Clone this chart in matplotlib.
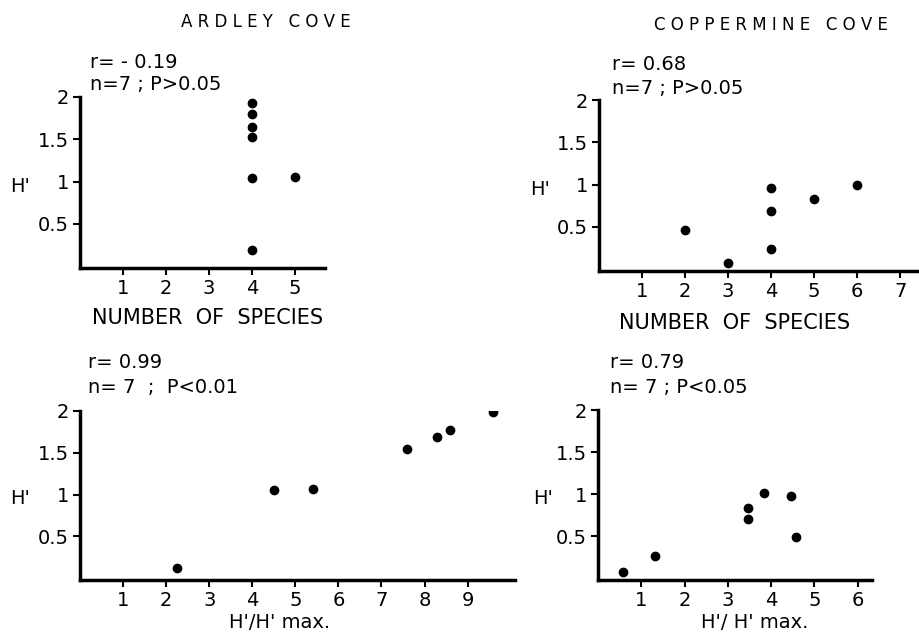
import matplotlib
matplotlib.use('Agg')
import matplotlib.pyplot as plt

# values
ardley_species = [4, 4, 4, 4, 4, 4, 5]
ardley_species_h = [1.93, 1.80, 1.64, 1.53, 1.04, 0.19, 1.05]
copper_species = [2, 3, 4, 4, 4, 5, 6]
copper_species_h = [0.46, 0.07, 0.96, 0.69, 0.24, 0.83, 0.99]
ardley_ratio = [2.25, 4.5, 5.4, 7.6, 8.28, 8.58, 9.58]
ardley_ratio_h = [0.12, 1.05, 1.07, 1.55, 1.69, 1.77, 1.99]
copper_ratio = [0.58, 1.32, 3.47, 3.47, 3.84, 4.47, 4.58]
copper_ratio_h = [0.08, 0.26, 0.84, 0.71, 1.01, 0.98, 0.49]

y_ticks = [0.5, 1, 1.5, 2]
y_tick_labels = ['0.5', '1', '1.5', '2']

W, H = 919, 644
plt.rcParams['font.family'] = 'DejaVu Sans'

fig = plt.figure(figsize=(W / 100, H / 100), dpi=100)


def rect(x0, y_top, x1, y_bot):
    # pixel box -> figure fraction
    return [x0 / W, 1 - y_bot / H, (x1 - x0) / W, (y_bot - y_top) / H]


def ftext(x, y, s, **kw):
    fig.text(x / W, 1 - y / H, s, **kw)


def panel(box, xs, ys, xmax, xticks):
    ax = fig.add_axes(rect(*box))
    ax.plot(xs, ys, 'o', color='black', markersize=6)
    ax.set_xlim(0, xmax)
    ax.set_ylim(-0.02, 2.0)
    ax.set_xticks(xticks)
    ax.set_xticklabels([str(t) for t in xticks])
    ax.set_yticks(y_ticks)
    ax.set_yticklabels(y_tick_labels)
    for s in ['top', 'right']:
        ax.spines[s].set_visible(False)
    for s in ['left', 'bottom']:
        ax.spines[s].set_linewidth(2.5)
    ax.tick_params(direction='out', length=5, width=1.5, labelsize=14, pad=3)
    ax.patch.set_alpha(0)
    return ax


panel((80, 97, 325, 268), ardley_species, ardley_species_h, 5.7, [1, 2, 3, 4, 5])
panel((599, 100, 919, 271), copper_species, copper_species_h, 7.44, [1, 2, 3, 4, 5, 6, 7])
panel((80, 411, 515, 580), ardley_ratio, ardley_ratio_h, 10.1, [1, 2, 3, 4, 5, 6, 7, 8, 9])
panel((598, 410, 872, 580), copper_ratio, copper_ratio_h, 6.33, [1, 2, 3, 4, 5, 6])

ftext(266, 22, 'A R D L E Y   C O V E', ha='center', va='center', fontsize=12)
ftext(771, 25, 'C O P P E R M I N E   C O V E', ha='center', va='center', fontsize=12)

ftext(208, 318, 'NUMBER  OF  SPECIES', ha='center', va='center', fontsize=15)
ftext(735, 323, 'NUMBER  OF  SPECIES', ha='center', va='center', fontsize=15)
ftext(280, 623, "H'/H' max.", ha='center', va='center', fontsize=14)
ftext(755, 623, "H'/ H' max.", ha='center', va='center', fontsize=14)

for x, y in [(20, 187), (540, 190), (20, 498), (543, 498)]:
    ftext(x, y, "H'", ha='center', va='center', fontsize=14)

ftext(90, 62, 'r= - 0.19', va='center', fontsize=14)
ftext(90, 85, 'n=7 ; P>0.05', va='center', fontsize=14)
ftext(612, 65, 'r= 0.68', va='center', fontsize=14)
ftext(612, 88, 'n=7 ; P>0.05', va='center', fontsize=14)
ftext(88, 362, 'r= 0.99', va='center', fontsize=14)
ftext(88, 387, 'n= 7  ;  P<0.01', va='center', fontsize=14)
ftext(610, 362, 'r= 0.79', va='center', fontsize=14)
ftext(610, 387, 'n= 7 ; P<0.05', va='center', fontsize=14)

fig.savefig('out.png', dpi=100)
